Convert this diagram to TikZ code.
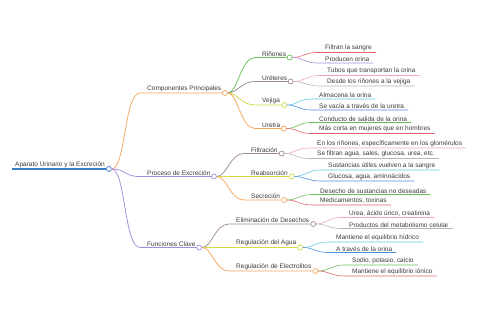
\documentclass[tikz,border=0pt]{standalone}
\usepackage{fontspec}
\setmainfont{Liberation Sans}
\usepackage{tikz}
\usetikzlibrary{positioning}
\definecolor{c_root}{HTML}{3D7EC8}
\definecolor{c_orange}{HTML}{F5A55A}
\definecolor{c_purple}{HTML}{A58BDB}
\definecolor{c_green}{HTML}{6BBF59}
\definecolor{c_mauve}{HTML}{A08C95}
\definecolor{c_yellow}{HTML}{D5D948}
\definecolor{c_red}{HTML}{E0636B}
\definecolor{c_pink}{HTML}{F0A8B8}
\definecolor{c_gray}{HTML}{B5B5B5}
\definecolor{c_cyan}{HTML}{63C7E6}
\definecolor{c_blue}{HTML}{4A8FDB}
\definecolor{c_text}{HTML}{3A3A3A}

\begin{document}
\begin{tikzpicture}[x=1pt,y=-1pt,
    every node/.style={font=\fontsize{6.5}{7.8}\selectfont,text=c_text},
    topic/.style={inner xsep=0pt,inner ysep=1.2pt},
    leaf/.style={inner xsep=4pt,inner ysep=1.2pt},
    dot/.style={circle,draw=#1,fill=white,line width=0.7pt,minimum size=5pt,inner sep=0pt},
    br/.style={draw=#1,line width=0.75pt},
    lf/.style={draw=#1,line width=0.6pt}]
    \useasboundingbox (0,0) rectangle (480,320);
    % root
    \coordinate (root-s) at (12,169);
    \node[topic,above right=0pt and 3pt of root-s] (root) {Aparato Urinario y la Excreci\'on};
    \node[dot=c_root,right=1pt of root.south east] (root-c) {};
    \draw[draw=c_root,line width=1.2pt] (root-s) -- (root-c.west);
    % first level
    \coordinate (comp-s) at (140,93);
    \node[topic,above right=0pt and 7pt of comp-s] (comp) {Componentes Principales};
    \node[dot=c_orange,right=0.5pt of comp.south east] (comp-c) {};
    \draw[br=c_orange] (root-c.east) .. controls +(14,0) and +(-16,0) .. (comp-s) -- (comp-c.west);
    \coordinate (proc-s) at (140,176.5);
    \node[topic,above right=0pt and 7pt of proc-s] (proc) {Proceso de Excreci\'on};
    \node[dot=c_purple,right=0.5pt of proc.south east] (proc-c) {};
    \draw[br=c_purple] (root-c.east) .. controls +(14,0) and +(-16,0) .. (proc-s) -- (proc-c.west);
    \coordinate (func-s) at (140,247.5);
    \node[topic,above right=0pt and 7pt of func-s] (func) {Funciones Clave};
    \node[dot=c_purple,right=0.5pt of func.south east] (func-c) {};
    \draw[br=c_purple] (root-c.east) .. controls +(14,0) and +(-16,0) .. (func-s) -- (func-c.west);
    % Componentes Principales
    \coordinate (rin-s) at (255,57.5);
    \node[topic,above right=0pt and 7pt of rin-s] (rin) {Ri\~nones};
    \node[dot=c_green,right=0.5pt of rin.south east] (rin-c) {};
    \draw[br=c_green] (comp-c.east) .. controls +(10,0) and +(-14,0) .. (rin-s) -- (rin-c.west);
    \coordinate (ure-s) at (255,81.5);
    \node[topic,above right=0pt and 7pt of ure-s] (ure) {Ur\'eteres};
    \node[dot=c_mauve,right=0.5pt of ure.south east] (ure-c) {};
    \draw[br=c_mauve] (comp-c.east) .. controls +(10,0) and +(-14,0) .. (ure-s) -- (ure-c.west);
    \coordinate (vej-s) at (255,105);
    \node[topic,above right=0pt and 7pt of vej-s] (vej) {Vejiga};
    \node[dot=c_yellow,right=1.5pt of vej.south east] (vej-c) {};
    \draw[br=c_yellow] (comp-c.east) .. controls +(10,0) and +(-14,0) .. (vej-s) -- (vej-c.west);
    \coordinate (uret-s) at (255,128.5);
    \node[topic,above right=0pt and 7pt of uret-s] (uret) {Uretra};
    \node[dot=c_orange,right=0.5pt of uret.south east] (uret-c) {};
    \draw[br=c_orange] (comp-c.east) .. controls +(10,0) and +(-14,0) .. (uret-s) -- (uret-c.west);
    % Rinones
    \coordinate (rin1-s) at (317,52.5);
    \node[leaf,above right=0pt and 4pt of rin1-s] (rin1) {Filtran la sangre};
    \draw[lf=c_red] (rin-c.east) .. controls +(10,0) and +(-12,0) .. (rin1-s) -- (rin1.south east);
    \coordinate (rin2-s) at (317,63);
    \node[leaf,above right=0pt and 4pt of rin2-s] (rin2) {Producen orina};
    \draw[lf=c_purple] (rin-c.east) .. controls +(10,0) and +(-12,0) .. (rin2-s) -- (rin2.south east);
    % Ureteres
    \coordinate (ure1-s) at (319,75.5);
    \node[leaf,above right=0pt and 4pt of ure1-s] (ure1) {Tubos que transportan la orina};
    \draw[lf=c_pink] (ure-c.east) .. controls +(10,0) and +(-12,0) .. (ure1-s) -- (ure1.south east);
    \coordinate (ure2-s) at (319,86);
    \node[leaf,above right=0pt and 4pt of ure2-s] (ure2) {Desde los ri\~nones a la vejiga};
    \draw[lf=c_gray] (ure-c.east) .. controls +(10,0) and +(-12,0) .. (ure2-s) -- (ure2.south east);
    % Vejiga
    \coordinate (vej1-s) at (311,99);
    \node[leaf,above right=0pt and 4pt of vej1-s] (vej1) {Almacena la orina};
    \draw[lf=c_cyan] (vej-c.east) .. controls +(10,0) and +(-12,0) .. (vej1-s) -- (vej1.south east);
    \coordinate (vej2-s) at (311,110);
    \node[leaf,above right=0pt and 4pt of vej2-s] (vej2) {Se vac\'ia a trav\'es de la uretra};
    \draw[lf=c_blue] (vej-c.east) .. controls +(10,0) and +(-12,0) .. (vej2-s) -- (vej2.south east);
    % Uretra
    \coordinate (uret1-s) at (311,122.5);
    \node[leaf,above right=0pt and 4pt of uret1-s] (uret1) {Conducto de salida de la orina};
    \draw[lf=c_green] (uret-c.east) .. controls +(10,0) and +(-12,0) .. (uret1-s) -- (uret1.south east);
    \coordinate (uret2-s) at (311,133.5);
    \node[leaf,above right=0pt and 4pt of uret2-s] (uret2) {M\'as corta en mujeres que en hombres};
    \draw[lf=c_red] (uret-c.east) .. controls +(10,0) and +(-12,0) .. (uret2-s) -- (uret2.south east);
    % Proceso de Excrecion
    \coordinate (fil-s) at (244,153.5);
    \node[topic,above right=0pt and 7pt of fil-s] (fil) {Filtraci\'on};
    \node[dot=c_mauve,right=1pt of fil.south east] (fil-c) {};
    \draw[br=c_mauve] (proc-c.east) .. controls +(10,0) and +(-14,0) .. (fil-s) -- (fil-c.west);
    \coordinate (rea-s) at (244,176.5);
    \node[topic,above right=0pt and 7pt of rea-s] (rea) {Reabsorci\'on};
    \node[dot=c_yellow,right=1pt of rea.south east] (rea-c) {};
    \draw[br=c_yellow] (proc-c.east) .. controls +(10,0) and +(-14,0) .. (rea-s) -- (rea-c.west);
    \coordinate (sec-s) at (244,200);
    \node[topic,above right=0pt and 7pt of sec-s] (sec) {Secreci\'on};
    \node[dot=c_orange,right=1pt of sec.south east] (sec-c) {};
    \draw[br=c_orange] (proc-c.east) .. controls +(10,0) and +(-14,0) .. (sec-s) -- (sec-c.west);
    % Filtracion
    \coordinate (fil1-s) at (309,148);
    \node[leaf,above right=0pt and 4pt of fil1-s] (fil1) {En los ri\~nones, espec\'ificamente en los glom\'erulos};
    \draw[lf=c_pink] (fil-c.east) .. controls +(10,0) and +(-12,0) .. (fil1-s) -- (fil1.south east);
    \coordinate (fil2-s) at (309,158.5);
    \node[leaf,above right=0pt and 4pt of fil2-s] (fil2) {Se filtran agua, sales, glucosa, urea, etc.};
    \draw[lf=c_gray] (fil-c.east) .. controls +(10,0) and +(-12,0) .. (fil2-s) -- (fil2.south east);
    % Reabsorcion
    \coordinate (rea1-s) at (320,170);
    \node[leaf,above right=0pt and 4pt of rea1-s] (rea1) {Sustancias \'utiles vuelven a la sangre};
    \draw[lf=c_cyan] (rea-c.east) .. controls +(10,0) and +(-12,0) .. (rea1-s) -- (rea1.south east);
    \coordinate (rea2-s) at (320,181);
    \node[leaf,above right=0pt and 4pt of rea2-s] (rea2) {Glucosa, agua, amino\'acidos};
    \draw[lf=c_blue] (rea-c.east) .. controls +(10,0) and +(-12,0) .. (rea2-s) -- (rea2.south east);
    % Secrecion
    \coordinate (sec1-s) at (312,194.5);
    \node[leaf,above right=0pt and 4pt of sec1-s] (sec1) {Desecho de sustancias no deseadas};
    \draw[lf=c_green] (sec-c.east) .. controls +(10,0) and +(-12,0) .. (sec1-s) -- (sec1.south east);
    \coordinate (sec2-s) at (312,205);
    \node[leaf,above right=0pt and 4pt of sec2-s] (sec2) {Medicamentos, toxinas};
    \draw[lf=c_red] (sec-c.east) .. controls +(10,0) and +(-12,0) .. (sec2-s) -- (sec2.south east);
    % Funciones Clave
    \coordinate (eli-s) at (229,224);
    \node[topic,above right=0pt and 7pt of eli-s] (eli) {Eliminaci\'on de Desechos};
    \node[dot=c_mauve,right=1pt of eli.south east] (eli-c) {};
    \draw[br=c_mauve] (func-c.east) .. controls +(10,0) and +(-14,0) .. (eli-s) -- (eli-c.west);
    \coordinate (agu-s) at (229,247.5);
    \node[topic,above right=0pt and 7pt of agu-s] (agu) {Regulaci\'on del Agua};
    \node[dot=c_yellow,right=1pt of agu.south east] (agu-c) {};
    \draw[br=c_yellow] (func-c.east) .. controls +(10,0) and +(-14,0) .. (agu-s) -- (agu-c.west);
    \coordinate (ele-s) at (229,271);
    \node[topic,above right=0pt and 7pt of ele-s] (ele) {Regulaci\'on de Electrolitos};
    \node[dot=c_orange,right=1pt of ele.south east] (ele-c) {};
    \draw[br=c_orange] (func-c.east) .. controls +(10,0) and +(-14,0) .. (ele-s) -- (ele-c.west);
    % Eliminacion de Desechos
    \coordinate (eli1-s) at (341,217.5);
    \node[leaf,above right=0pt and 4pt of eli1-s] (eli1) {Urea, \'acido \'urico, creatinina};
    \draw[lf=c_pink] (eli-c.east) .. controls +(10,0) and +(-12,0) .. (eli1-s) -- (eli1.south east);
    \coordinate (eli2-s) at (341,228.5);
    \node[leaf,above right=0pt and 4pt of eli2-s] (eli2) {Productos del metabolismo celular};
    \draw[lf=c_gray] (eli-c.east) .. controls +(10,0) and +(-12,0) .. (eli2-s) -- (eli2.south east);
    % Regulacion del Agua
    \coordinate (agu1-s) at (328,242);
    \node[leaf,above right=0pt and 4pt of agu1-s] (agu1) {Mantiene el equilibrio h\'idrico};
    \draw[lf=c_cyan] (agu-c.east) .. controls +(10,0) and +(-12,0) .. (agu1-s) -- (agu1.south east);
    \coordinate (agu2-s) at (328,252.5);
    \node[leaf,above right=0pt and 4pt of agu2-s] (agu2) {A trav\'es de la orina};
    \draw[lf=c_blue] (agu-c.east) .. controls +(10,0) and +(-12,0) .. (agu2-s) -- (agu2.south east);
    % Regulacion de Electrolitos
    \coordinate (ele1-s) at (344,265);
    \node[leaf,above right=0pt and 4pt of ele1-s] (ele1) {Sodio, potasio, calcio};
    \draw[lf=c_green] (ele-c.east) .. controls +(10,0) and +(-12,0) .. (ele1-s) -- (ele1.south east);
    \coordinate (ele2-s) at (344,276);
    \node[leaf,above right=0pt and 4pt of ele2-s] (ele2) {Mantiene el equilibrio i\'onico};
    \draw[lf=c_red] (ele-c.east) .. controls +(10,0) and +(-12,0) .. (ele2-s) -- (ele2.south east);
\end{tikzpicture}
\end{document}
